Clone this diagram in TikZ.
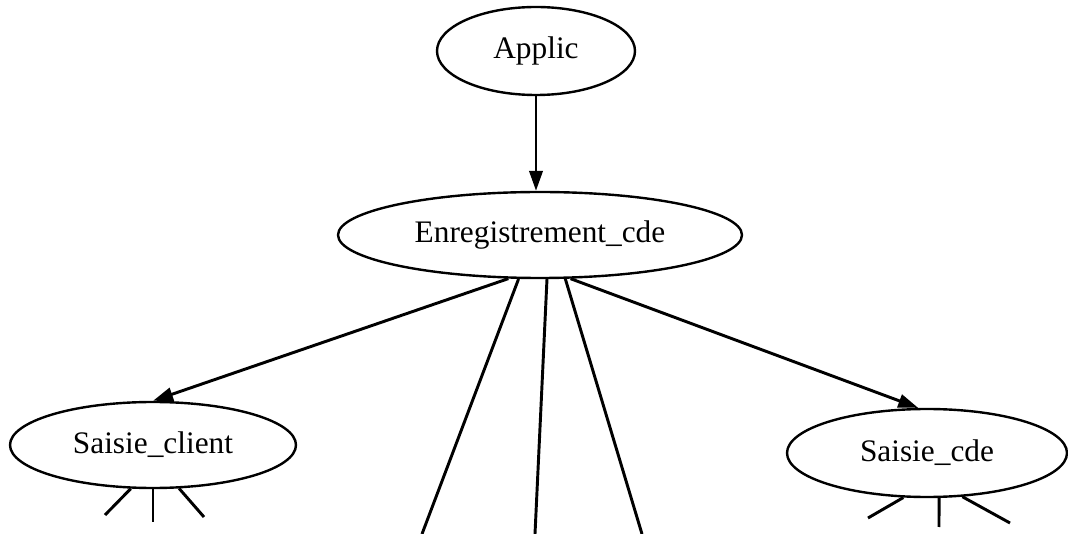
\documentclass[tikz,border=0pt]{standalone}
\usepackage{fontspec}
\setmainfont{Liberation Serif}
\usetikzlibrary{shapes.geometric,arrows.meta}
\begin{document}
\begin{tikzpicture}[x=0.75pt,y=-0.75pt,
  proc/.style={draw,ellipse,line width=1.8pt,inner sep=0pt,
    font=\fontsize{23.5pt}{28pt}\selectfont},
  link/.style={line width=2.2pt},
  call/.style={link,-{Triangle[length=15pt,width=10pt]}}]
  \useasboundingbox (0,0) rectangle (1068,534);

  % procedures
  \node[proc,minimum width=148.5pt,minimum height=66pt] (app) at (536,51) {Applic};
  \node[proc,minimum width=303pt,minimum height=64.5pt] (enr) at (540,235) {Enregistrement\_cde};
  \node[proc,minimum width=214.5pt,minimum height=64.5pt] (scl) at (153,445) {Saisie\_client};
  \node[proc,minimum width=210pt,minimum height=66pt] (scd) at (927,453) {Saisie\_cde};

  % calls
  \draw[call] (app.south) -- (app.south |- enr.north);
  \draw[call] (enr.234) -- (scl.90);
  \draw[call] (enr.305) -- (scd.101);

  % calls continuing below
  \coordinate (e1) at (422,534);
  \coordinate (e2) at (535,534);
  \coordinate (e3) at (642,534);
  \draw[link] (enr.244) -- (e1);
  \draw[link] (enr.279.5) -- (e2);
  \draw[link] (enr.300.8) -- (e3);

  \coordinate (s1) at (105,515);
  \coordinate (s2) at (153,522);
  \coordinate (s3) at (204,517);
  \draw[link] (scl.243) -- (s1);
  \draw[link] (scl.270) -- (s2);
  \draw[link] (scl.301) -- (s3);

  \coordinate (d1) at (868,518);
  \coordinate (d2) at (939,527);
  \coordinate (d3) at (1010,523);
  \draw[link] (scd.242) -- (d1);
  \draw[link] (scd.285) -- (d2);
  \draw[link] (scd.309) -- (d3);
\end{tikzpicture}
\end{document}
